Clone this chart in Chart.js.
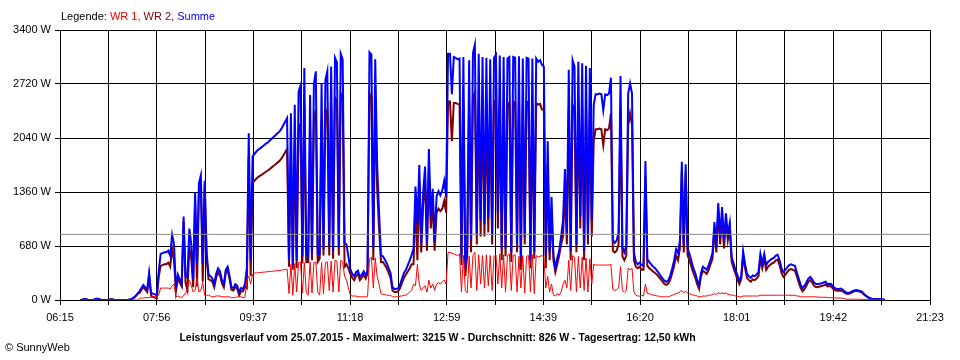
<!DOCTYPE html>
<html>
<head>
<meta charset="utf-8">
<script src="https://cdn.jsdelivr.net/npm/chart.js@4.4.1/dist/chart.umd.min.js"></script>
<style>
  body { margin: 0; background: #fff; }
  #wrap { position: relative; width: 960px; height: 360px; font-family: "Liberation Sans", Arial, sans-serif; color: #000; }
  #legend { position: absolute; left: 61px; top: 10px; font-size: 11px; line-height: 13px; }
  #info { position: absolute; left: 0; width: 875px; top: 331px; text-align: center; font-weight: bold; font-size: 10.5px; line-height: 13px; }
  #copy { position: absolute; left: 5px; top: 341px; font-size: 11px; line-height: 13px; }
</style>
</head>
<body>
<div id="wrap">
  <canvas id="chart" width="960" height="360"></canvas>
  <div id="legend">Legende: <span style="color:#ff0000">WR 1,</span> <span style="color:#800000">WR 2,</span> <span style="color:#0000ff">Summe</span></div>
  <div id="info">Leistungsverlauf vom 25.07.2015 - Maximalwert: 3215 W - Durchschnitt: 826 W - Tagesertrag: 12,50 kWh</div>
  <div id="copy">&copy; SunnyWeb</div>
</div>
<script>
// x axis in minutes after midnight
const axisStart = 375;   // 06:15
const axisEnd = 1283;    // 21:23
const tickLabels = ['06:15', '07:56', '09:37', '11:18', '12:59', '14:39', '16:20', '18:01', '19:42', '21:23'];

// samples every 2 minutes starting 06:36
const startMinute = 396;
const stepMinutes = 2;

const average = 826;

// WR 1 (W), one row = 30 minutes
const wr1 = [
  0,0,0,0,0,0,0,0,0,0,0,0,0,0,0,
  0,0,0,0,0,0,0,0,0,0,0,0,0,0,0,
  0,20,25,25,30,30,30,35,40,40,40,60,150,150,150,
  150,150,140,180,200,40,50,40,30,60,80,150,250,180,100,
  120,280,100,120,220,60,60,60,50,40,40,50,50,50,40,
  40,40,40,40,30,30,30,40,40,40,30,30,250,300,200,
  330,340,340,345,345,350,350,355,355,360,360,365,365,370,370,
  375,380,385,390,80,450,60,460,100,470,480,90,470,100,60,
  480,90,470,480,100,60,470,80,470,480,120,490,100,500,490,
  100,500,480,300,250,150,60,50,50,50,40,40,40,40,40,
  40,520,540,150,530,300,200,80,70,70,60,60,60,40,40,
  40,40,50,50,60,60,80,100,120,200,180,450,200,120,150,
  180,100,250,150,200,120,200,220,200,230,250,200,600,600,590,
  580,570,560,580,100,560,120,90,550,150,560,600,120,570,200,
  560,150,570,180,560,120,550,570,200,580,150,570,100,560,580,
  120,560,570,100,550,150,560,90,550,560,100,570,80,560,540,
  550,560,540,150,300,100,200,60,50,80,60,100,200,250,150,
  500,120,560,540,100,550,150,540,120,530,100,520,200,450,440,
  440,440,440,440,440,440,440,450,130,120,130,150,420,120,100,
  120,400,380,400,100,60,50,50,60,50,200,80,80,70,60,
  60,50,50,40,40,40,40,40,50,60,70,80,90,100,120,
  90,110,90,80,70,60,60,50,40,40,50,50,50,60,60,
  70,80,70,90,80,90,80,90,70,70,60,60,50,50,40,
  40,50,50,50,50,50,50,50,50,50,60,60,60,60,60,
  60,60,60,60,60,60,60,60,60,60,60,60,60,60,50,
  50,40,40,40,40,40,40,40,40,40,35,35,35,35,35,
  30,30,30,25,25,25,25,25,20,15,10,10,10,10,10,
  10,10,10,8,8,5,5,5,5,4,4,3,3,3,2,
  0
];

// WR 2 (W)
const wr2 = [
  0,0,12,12,0,0,0,0,12,15,10,0,0,0,0,
  0,10,8,0,0,0,0,0,0,0,0,5,15,30,50,
  80,90,125,165,130,100,310,55,40,30,20,290,430,440,450,
  450,470,420,640,500,110,270,220,170,990,220,130,650,520,160,
  1230,170,1370,1450,230,1440,540,260,250,230,160,280,350,310,210,
  160,340,380,260,130,120,170,140,60,110,110,170,150,1800,300,
  1480,1500,1530,1550,1565,1580,1600,1615,1630,1650,1670,1690,1710,1730,1750,
  1780,1820,1860,1900,420,1900,380,2000,400,2150,2220,460,2450,480,480,
  2100,500,2250,2400,480,520,2250,560,2300,2400,560,2450,520,2550,2500,
  560,2600,2550,420,450,400,330,280,250,300,330,250,280,320,270,
  330,2600,2550,500,2500,1400,900,480,480,440,400,340,280,120,100,
  100,110,150,220,280,320,360,400,450,450,1250,500,1500,600,1200,
  1500,620,1650,900,1200,620,1100,1150,1120,1150,1250,1100,2500,2500,2000,
  2480,2480,2470,2460,440,2500,300,560,2470,600,2550,2615,700,2530,800,
  2500,800,2480,850,2470,700,2500,2520,900,2500,500,2490,550,2480,2480,
  480,2500,2480,600,2520,380,2480,700,2500,2480,400,2470,520,2480,2460,
  2470,2400,2400,400,1700,500,1100,500,350,450,560,700,800,1400,700,
  2400,500,2460,2400,600,2450,900,2440,500,2420,700,2400,800,2000,2150,
  2150,2160,2150,1950,2150,2140,2160,2350,620,600,620,700,2400,550,500,
  560,2200,2350,2200,500,420,400,420,380,380,1550,430,400,380,360,
  340,320,290,260,230,200,190,210,260,340,430,560,500,650,1620,
  600,1600,560,500,420,340,280,200,140,300,370,350,330,380,450,
  520,900,600,1130,700,1080,650,1000,750,900,480,400,330,260,200,
  260,560,400,280,250,230,260,250,270,300,520,400,520,380,420,
  440,460,470,500,510,440,340,290,320,350,380,390,380,370,300,
  220,150,110,140,180,230,250,220,180,160,165,170,175,185,195,
  170,175,170,140,125,115,115,120,110,90,80,80,85,100,110,
  115,110,105,95,70,50,35,20,12,8,8,8,8,7,6,
  0
];

let wr1Points = [];
let wr2Points = [];
let sumPoints = [];
for (let i = 0; i < wr1.length; i++) {
  let t = startMinute + i * stepMinutes;
  wr1Points.push({x: t, y: wr1[i]});
  wr2Points.push({x: t, y: wr2[i]});
  sumPoints.push({x: t, y: wr1[i] + wr2[i]});
}

// 18 grid intervals, every second one labelled
let gridMinutes = [];
for (let k = 0; k <= 18; k++) {
  gridMinutes.push(axisStart + k * (axisEnd - axisStart) / 18);
}

Chart.defaults.font.family = '"Liberation Sans", Arial, sans-serif';
Chart.defaults.font.size = 11;
Chart.defaults.color = '#000';

var ctx = document.getElementById('chart').getContext('2d');

// first dataset is painted last (on top)
var chart = new Chart(ctx, {
  type: 'line',
  data: {
    datasets: [{
      label: 'Durchschnitt',
      data: [{x: axisStart, y: average}, {x: axisEnd, y: average}],
      borderColor: '#8c8c8c',
      borderWidth: 1,
      pointRadius: 0
    }, {
      label: 'WR 1',
      data: wr1Points,
      borderColor: '#ff0000',
      borderWidth: 1,
      pointRadius: 0
    }, {
      label: 'Summe',
      data: sumPoints,
      borderColor: '#0000ff',
      borderWidth: 2,
      pointRadius: 0
    }, {
      label: 'WR 2',
      data: wr2Points,
      borderColor: '#800000',
      borderWidth: 2,
      pointRadius: 0
    }]
  },
  options: {
    responsive: false,
    animation: false,
    layout: {
      padding: { top: 30, right: 30, left: 0, bottom: 0 }
    },
    plugins: {
      legend: { display: false },
      tooltip: { enabled: false }
    },
    scales: {
      x: {
        type: 'linear',
        min: axisStart,
        max: axisEnd,
        z: 1,
        afterBuildTicks: function(scale) {
          scale.ticks = gridMinutes.map(function(v) { return {value: v}; });
        },
        afterFit: function(scale) { scale.height = 60; },
        grid: {
          color: '#000',
          lineWidth: 1,
          tickLength: 5
        },
        border: { color: '#000' },
        ticks: {
          autoSkip: false,
          maxRotation: 0,
          padding: 6,
          callback: function(value, index) {
            return index % 2 === 0 ? tickLabels[index / 2] : '';
          }
        }
      },
      y: {
        min: 0,
        max: 3400,
        z: 1,
        afterFit: function(scale) { scale.width = 60; },
        grid: {
          color: '#000',
          lineWidth: 1,
          tickLength: 5
        },
        border: { color: '#000' },
        ticks: {
          stepSize: 680,
          padding: 4,
          callback: function(value) {
            return value + ' W';
          }
        }
      }
    }
  }
});
</script>
</body>
</html>
